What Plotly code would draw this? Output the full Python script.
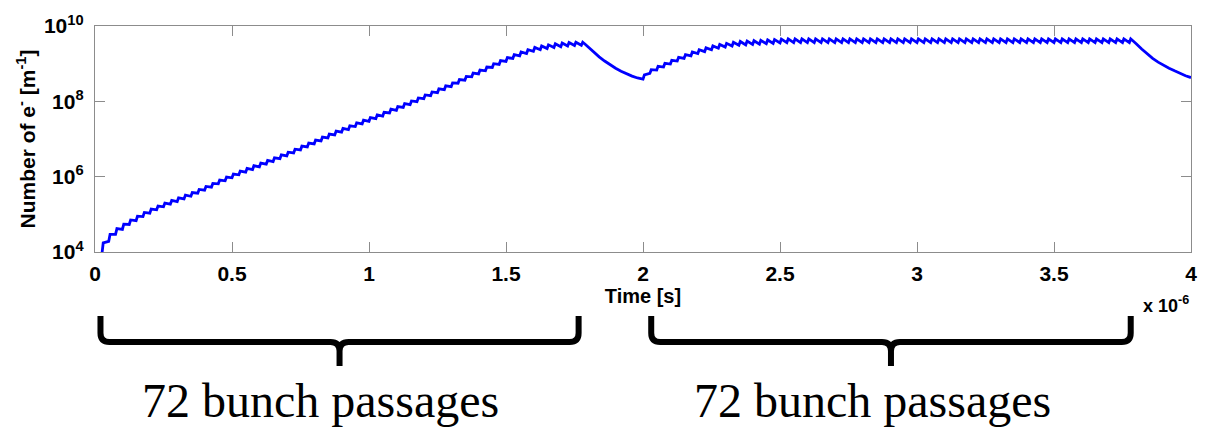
import plotly.graph_objects as go

# ---------------------------------------------------------------
# Electron cloud build-up: two trains of 72 bunches, 25 ns spacing
# Values are log10 of the electron line density [m^-1]
# ---------------------------------------------------------------
bunch_spacing_us = 0.025
bunch_rise_us = 0.005
train_starts_us = [0.0, 2.0]

# density just before each bunch passage of train 1
train1_before = [
    3.55, 3.93, 4.28, 4.47, 4.60, 4.73, 4.83, 4.94, 5.03, 5.12,
    5.20, 5.27, 5.34, 5.41, 5.48, 5.56, 5.64, 5.72, 5.81, 5.89,
    5.97, 6.05, 6.12, 6.19, 6.26, 6.33, 6.40, 6.48, 6.55, 6.63,
    6.71, 6.79, 6.87, 6.95, 7.03, 7.11, 7.18, 7.25, 7.33, 7.40,
    7.47, 7.54, 7.61, 7.69, 7.76, 7.84, 7.91, 7.99, 8.07, 8.15,
    8.23, 8.31, 8.39, 8.48, 8.56, 8.65, 8.73, 8.81, 8.90, 8.98,
    9.06, 9.14, 9.21, 9.27, 9.33, 9.37, 9.40, 9.43, 9.45, 9.47,
    9.48, 9.49,
]
# density just after each bunch passage of train 1
train1_after = [
    3.85, 4.24, 4.47, 4.62, 4.74, 4.85, 4.95, 5.05, 5.14, 5.22,
    5.30, 5.37, 5.44, 5.51, 5.58, 5.66, 5.74, 5.82, 5.91, 5.99,
    6.07, 6.15, 6.22, 6.29, 6.36, 6.43, 6.50, 6.58, 6.65, 6.73,
    6.81, 6.89, 6.97, 7.05, 7.13, 7.21, 7.28, 7.35, 7.43, 7.50,
    7.57, 7.64, 7.71, 7.79, 7.86, 7.94, 8.01, 8.09, 8.17, 8.25,
    8.33, 8.41, 8.49, 8.58, 8.66, 8.75, 8.83, 8.91, 9.00, 9.08,
    9.16, 9.24, 9.31, 9.37, 9.43, 9.47, 9.50, 9.53, 9.55, 9.56,
    9.57, 9.57,
]

# decay in the gap after train 1
gap1_time_us = [1.79, 1.80, 1.82, 1.84, 1.86, 1.88, 1.90, 1.92, 1.94, 1.96, 1.98]
gap1_density = [9.51, 9.44, 9.31, 9.18, 9.07, 8.97, 8.88, 8.80, 8.73, 8.67, 8.62]

train2_before = [
    8.59, 8.74, 8.83, 8.91, 8.99, 9.07, 9.14, 9.21, 9.27, 9.32,
    9.37, 9.41, 9.44, 9.47, 9.49, 9.50, 9.51, 9.52, 9.53, 9.54,
    9.55, 9.56, 9.56, 9.56, 9.56, 9.56, 9.56, 9.56, 9.56, 9.56,
    9.56, 9.56, 9.56, 9.56, 9.56, 9.56, 9.56, 9.56, 9.56, 9.56,
    9.56, 9.56, 9.56, 9.56, 9.56, 9.56, 9.56, 9.56, 9.56, 9.56,
    9.56, 9.56, 9.56, 9.56, 9.56, 9.56, 9.56, 9.56, 9.56, 9.56,
    9.56, 9.56, 9.56, 9.56, 9.56, 9.56, 9.56, 9.56, 9.56, 9.56,
    9.56, 9.56,
]
train2_after = [
    8.70, 8.84, 8.93, 9.01, 9.09, 9.17, 9.24, 9.31, 9.37, 9.42,
    9.47, 9.51, 9.54, 9.57, 9.59, 9.60, 9.61, 9.62, 9.63, 9.64,
    9.65, 9.66, 9.66, 9.66, 9.66, 9.66, 9.66, 9.66, 9.66, 9.66,
    9.66, 9.66, 9.66, 9.66, 9.66, 9.66, 9.66, 9.66, 9.66, 9.66,
    9.66, 9.66, 9.66, 9.66, 9.66, 9.66, 9.66, 9.66, 9.66, 9.66,
    9.66, 9.66, 9.66, 9.66, 9.66, 9.66, 9.66, 9.66, 9.66, 9.66,
    9.66, 9.66, 9.66, 9.66, 9.66, 9.66, 9.66, 9.66, 9.66, 9.66,
    9.66, 9.66,
]

# decay after train 2
gap2_time_us = [3.79, 3.80, 3.82, 3.84, 3.86, 3.88, 3.90, 3.92, 3.94, 3.96, 3.98, 4.00]
gap2_density = [9.60, 9.53, 9.39, 9.26, 9.14, 9.04, 8.95, 8.88, 8.81, 8.74, 8.68, 8.63]

x_tick_values_us = [0, 0.5, 1, 1.5, 2, 2.5, 3, 3.5, 4]
x_tick_labels = ["0", "0.5", "1", "1.5", "2", "2.5", "3", "3.5", "4"]
y_tick_exponents = [4, 6, 8, 10]
brace_spans_us = [(0.02, 1.765), (2.03, 3.78)]
brace_label = "72 bunch passages"

# ---------------------------------------------------------------
# assemble the trace: step up at each bunch, decay until the next
# ---------------------------------------------------------------
t_us, log_n = [], []
trains = [(train1_before, train1_after, gap1_time_us, gap1_density),
          (train2_before, train2_after, gap2_time_us, gap2_density)]
for start, (before, after, gap_t, gap_n) in zip(train_starts_us, trains):
    for k, (lo, hi) in enumerate(zip(before, after)):
        tb = start + k * bunch_spacing_us
        t_us += [tb, tb + bunch_rise_us]
        log_n += [lo, hi]
    t_us += gap_t
    log_n += gap_n

x_s = [t * 1e-6 for t in t_us]
y_n = [10 ** v for v in log_n]

fig = go.Figure(go.Scatter(
    x=x_s, y=y_n, mode="lines",
    line=dict(color="#0000ff", width=2.8),
    showlegend=False, hoverinfo="skip",
))

W, H = 1209, 428
ML, MR, MT, MB = 95, 14, 26, 176
plot_w = W - ML - MR
plot_h = H - MT - MB
X_MAX_US = 4.0

axis_col = "#8c8c8c"
sans = "Liberation Sans, Arial, sans-serif"
tick_font = dict(family=sans, size=21, color="black", weight="bold")

fig.update_xaxes(
    range=[0, X_MAX_US * 1e-6],
    tickvals=[v * 1e-6 for v in x_tick_values_us],
    ticktext=x_tick_labels,
    ticks="inside", ticklen=10, tickwidth=1, tickcolor=axis_col,
    showline=True, linecolor=axis_col, linewidth=1.3, mirror="ticks",
    showgrid=False, zeroline=False,
    tickfont=tick_font, ticklabelstandoff=3,
    title=dict(text="Time [s]", font=dict(family=sans, size=20, color="black",
                                          weight="bold"), standoff=1),
)
fig.update_yaxes(
    type="log", range=[4, 10],
    tickvals=[10 ** e for e in y_tick_exponents],
    ticktext=[f"10<sup>{e}</sup>" for e in y_tick_exponents],
    ticks="inside", ticklen=10, tickwidth=1, tickcolor=axis_col,
    showline=True, linecolor=axis_col, linewidth=1.3, mirror="ticks",
    showgrid=False, zeroline=False,
    tickfont=tick_font, ticklabelstandoff=6,
    title=dict(text="Number of e<sup>-</sup> [m<sup>-1</sup>]",
               font=dict(family=sans, size=21, color="black", weight="bold"),
               standoff=2),
)


def paper_x(t):
    return t / X_MAX_US


def paper_y(py):
    # layout pixel row -> paper coordinate
    return (H - MB - py) / plot_h


rx = 9 / plot_w
ry = 9 / plot_h
y_top, y_bar, y_tip = paper_y(316), paper_y(342), paper_y(366)

shapes, annotations = [], []
for a, b in brace_spans_us:
    x0, x1 = paper_x(a), paper_x(b)
    xm = (x0 + x1) / 2
    path = (
        f"M {x0},{y_top} L {x0},{y_bar + ry} Q {x0},{y_bar} {x0 + rx},{y_bar} "
        f"L {xm - rx},{y_bar} Q {xm},{y_bar} {xm},{y_bar - ry} L {xm},{y_tip} "
        f"M {xm},{y_bar - ry} Q {xm},{y_bar} {xm + rx},{y_bar} "
        f"L {x1 - rx},{y_bar} Q {x1},{y_bar} {x1},{y_bar + ry} L {x1},{y_top}"
    )
    shapes.append(dict(type="path", path=path, xref="paper", yref="paper",
                       line=dict(color="black", width=6)))
    annotations.append(dict(
        text=brace_label, xref="paper", yref="paper",
        x=xm - 19 / plot_w, y=paper_y(400), xanchor="center", yanchor="middle",
        showarrow=False,
        font=dict(family="Liberation Serif, Times New Roman, serif",
                  size=48, color="black"),
    ))

annotations.append(dict(
    text="x 10<sup>-6</sup>", xref="paper", yref="paper",
    x=1.0, y=paper_y(304), xanchor="right", yanchor="middle",
    showarrow=False, font=dict(family=sans, size=18, color="black",
                               weight="bold"),
))

fig.update_layout(
    width=W, height=H,
    margin=dict(l=ML, r=MR, t=MT, b=MB),
    paper_bgcolor="white", plot_bgcolor="white",
    shapes=shapes, annotations=annotations,
)

fig.write_html("out.html")
